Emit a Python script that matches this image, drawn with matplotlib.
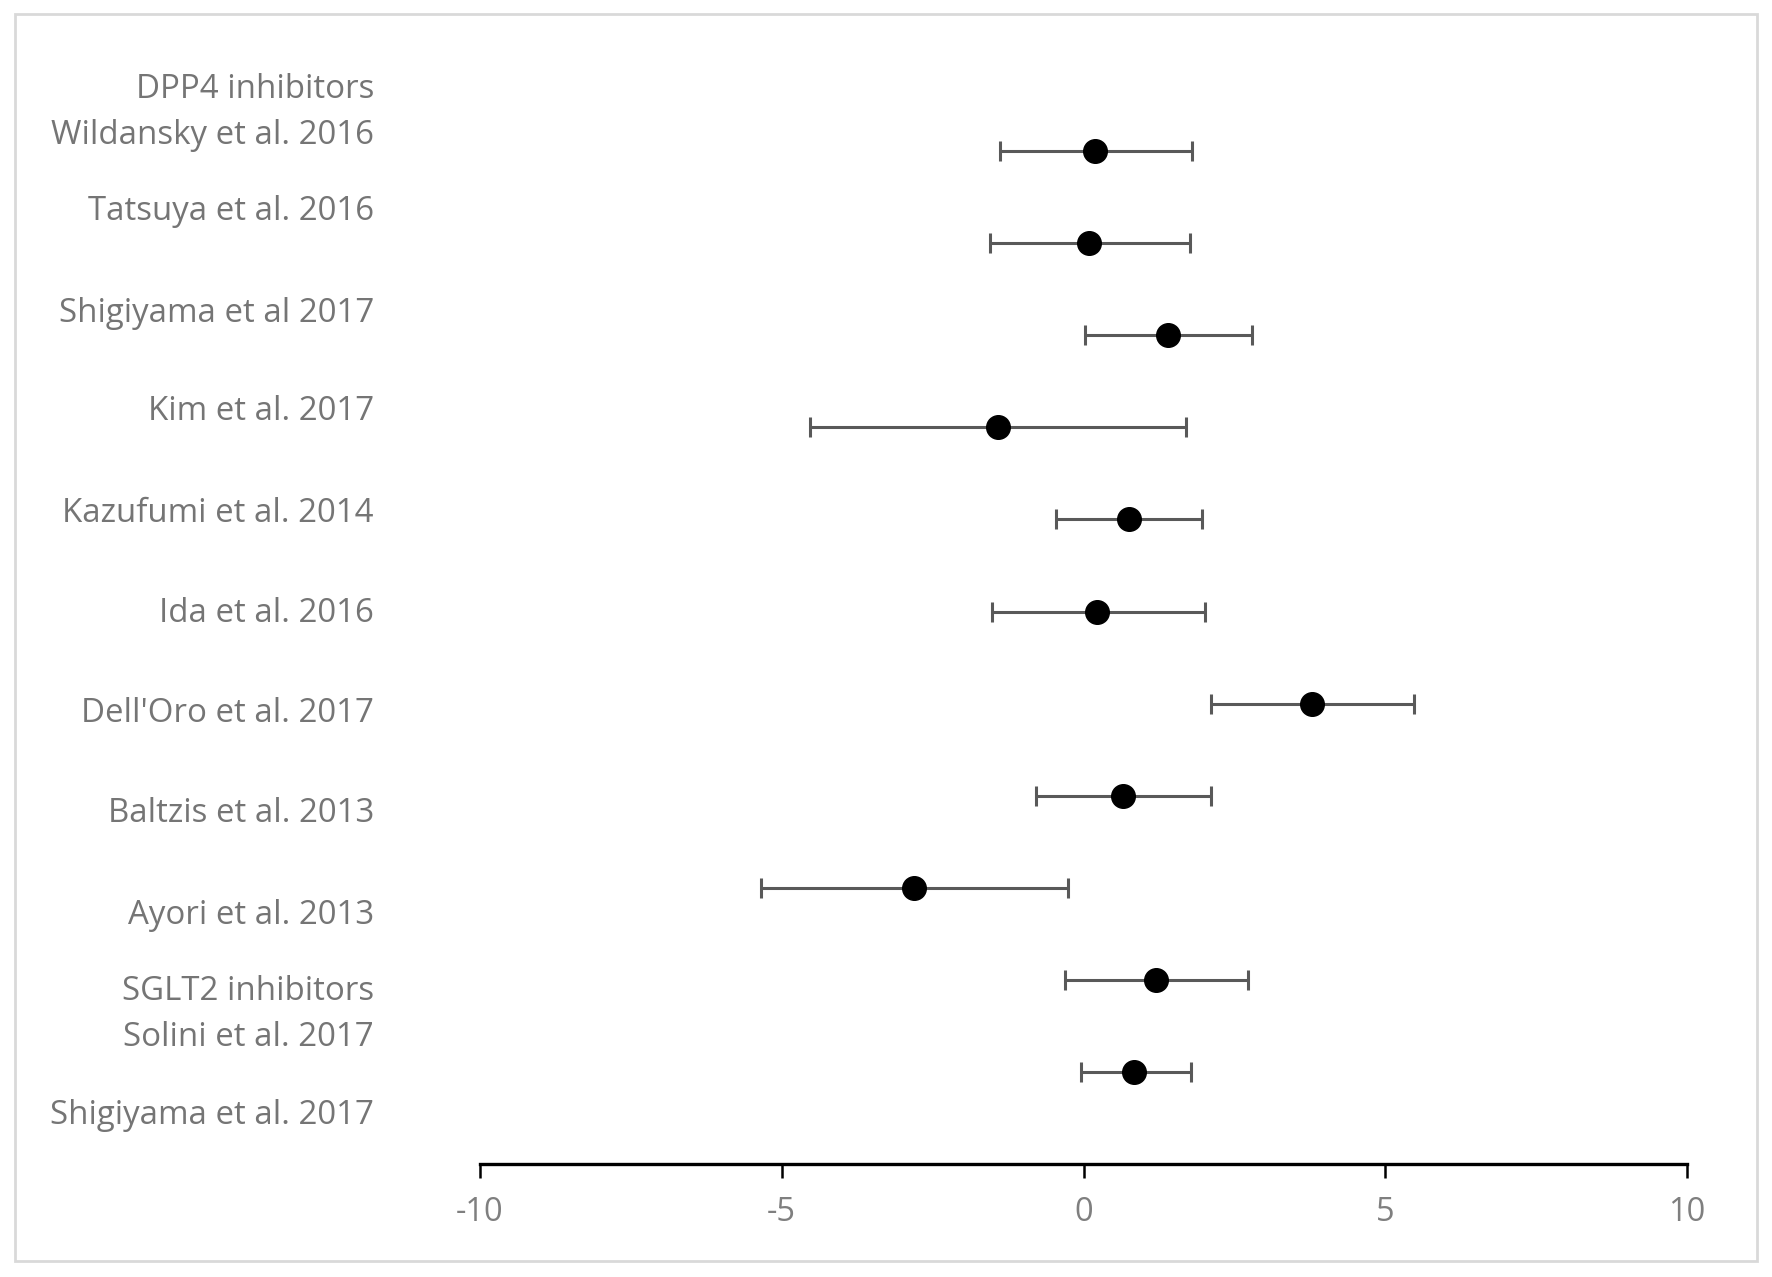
import matplotlib
matplotlib.use("Agg")
import matplotlib.pyplot as plt
from matplotlib.patches import Rectangle
from matplotlib import font_manager

# ---- data ----
studies = ["Wildansky et al. 2016", "Tatsuya et al. 2016", "Shigiyama et al 2017",
           "Kim et al. 2017", "Kazufumi et al. 2014", "Ida et al. 2016",
           "Dell'Oro et al. 2017", "Baltzis et al. 2013", "Ayori et al. 2013",
           "Solini et al. 2017", "Shigiyama et al. 2017"]
effect = [0.19, 0.09, 1.40, -1.42, 0.75, 0.22, 3.78, 0.66, -2.81, 1.20, 0.84]
ci_low = [-1.39, -1.55, 0.02, -4.53, -0.45, -1.52, 2.12, -0.79, -5.34, -0.30, -0.04]
ci_high = [1.80, 1.76, 2.79, 1.70, 1.97, 2.02, 5.47, 2.12, -0.26, 2.72, 1.78]
row_pos = [11, 10, 9, 8, 7, 6, 5, 4, 3, 2, 1]
label_lines = ["DPP4 inhibitors", "Wildansky et al. 2016", "Tatsuya et al. 2016",
               "Shigiyama et al 2017", "Kim et al. 2017", "Kazufumi et al. 2014",
               "Ida et al. 2016", "Dell'Oro et al. 2017", "Baltzis et al. 2013",
               "Ayori et al. 2013", "SGLT2 inhibitors", "Solini et al. 2017",
               "Shigiyama et al. 2017"]
x_ticks = [-10, -5, 0, 5, 10]

# ---- font ----
avail = {f.name for f in font_manager.fontManager.ttflist}
fam = "Liberation Sans Narrow" if "Liberation Sans Narrow" in avail else "Open Sans"
plt.rcParams["font.family"] = [fam, "DejaVu Sans"]

W, H = 1772, 1277
fig = plt.figure(figsize=(W / 100, H / 100), dpi=100)
fig.patch.set_facecolor("white")

# outer border
fig.patches.append(Rectangle((15 / W, 1 - 1261 / H), (1757 - 15) / W, (1261 - 14) / H,
                             transform=fig.transFigure, fill=False,
                             edgecolor="#d9d9d9", linewidth=2.0))

ax = fig.add_axes([480 / W, 1 - 1164 / H, (1687 - 480) / W, (1164 - 59) / H])
ax.set_xlim(-10, 10)
ax.set_ylim(0, 12)

lo_err = [e - l for e, l in zip(effect, ci_low)]
hi_err = [h - e for e, h in zip(effect, ci_high)]
ax.errorbar(effect, row_pos, xerr=[lo_err, hi_err], fmt="none",
            ecolor="#595959", elinewidth=2.2, capsize=7, capthick=2.2, zorder=2)
ax.plot(effect, row_pos, "o", color="black", markersize=17, zorder=3)

for s in ["top", "right", "left"]:
    ax.spines[s].set_visible(False)
ax.spines["bottom"].set_linewidth(2.4)
ax.spines["bottom"].set_color("black")
ax.set_yticks([])
ax.set_xticks(x_ticks)
ax.set_xticklabels([str(t) for t in x_ticks])
ax.tick_params(axis="x", direction="out", length=10, width=1.8, color="black",
               labelsize=23.5, labelcolor="#7f7f7f", pad=13)

# study labels (text block on the left, as in the original)
label_px = [89, 135, 211, 313, 412, 513, 613, 714, 814, 915, 992, 1038, 1116]
for txt, py in zip(label_lines, label_px):
    fig.text(374 / W, 1 - py / H, txt, ha="right", va="center",
             fontsize=23.8, color="#757575")

fig.savefig("out.png", dpi=100)
